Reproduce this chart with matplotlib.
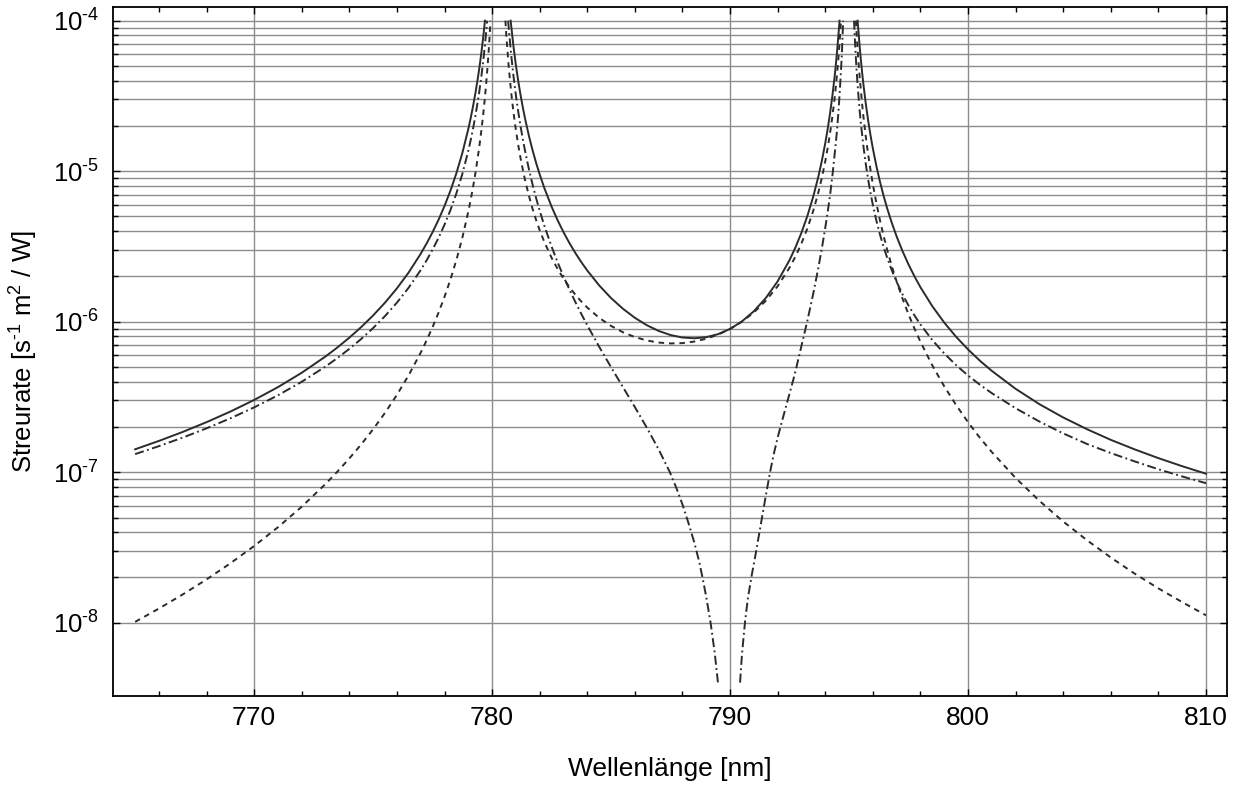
import numpy as np
import matplotlib
matplotlib.use("Agg")
import matplotlib.pyplot as plt
from matplotlib.ticker import FixedLocator, MultipleLocator, FuncFormatter, NullFormatter

nan = float("nan")

# Gesamte Streurate (durchgezogen)
total_wl = [765, 766, 767, 768, 769, 770, 771, 772, 773, 773.5, 774, 774.5, 775, 775.5, 776, 776.5,
            777, 777.25, 777.5, 777.75, 778, 778.25, 778.5, 778.75, 779, 779.1, 779.2, 779.3, 779.4,
            779.45, 779.5, 779.55, 779.6, 779.65, 779.7, nan,
            780.78, 780.8, 780.9, 781.0, 781.1, 781.2, 781.3, 781.4, 781.55, 781.7, 781.85, 782, 782.2,
            782.5, 782.75, 783, 783.25, 783.5, 783.75, 784, 784.5, 785, 785.5, 786, 786.5, 787, 787.5,
            788, 788.5, 789, 789.5, 790, 790.5, 791, 791.5, 792, 792.5, 792.75, 793, 793.25, 793.5,
            793.7, 793.85, 794, 794.1, 794.2, 794.3, 794.4, 794.45, 794.5, 794.55, 794.6, nan,
            795.36, 795.4, 795.45, 795.5, 795.55, 795.6, 795.7, 795.8, 795.9, 796, 796.15, 796.3, 796.45,
            796.6, 796.8, 797, 797.25, 797.5, 797.75, 798, 798.5, 799, 799.5, 800, 800.5, 801, 802, 803,
            804, 805, 806, 807, 808, 809, 810]
total_rate = [1.420e-7, 1.614e-7, 1.852e-7, 2.150e-7, 2.528e-7, 3.019e-7, 3.674e-7, 4.577e-7, 5.873e-7,
              6.744e-7, 7.831e-7, 9.211e-7, 1.100e-6, 1.338e-6, 1.665e-6, 2.130e-6, 2.827e-6, 3.313e-6,
              3.937e-6, 4.759e-6, 5.870e-6, 7.426e-6, 9.698e-6, 1.321e-5, 1.905e-5, 2.253e-5, 2.706e-5,
              3.311e-5, 4.144e-5, 4.685e-5, 5.339e-5, 6.139e-5, 7.135e-5, 8.395e-5, 1.0e-4, nan,
              1.0e-4, 9.32e-5, 6.71e-5, 5.06e-5, 3.956e-5, 3.18e-5, 2.607e-5, 2.18e-5, 1.710e-5,
              1.378e-5, 1.135e-5, 9.51e-6, 7.690e-6, 5.81e-6, 4.733e-6, 3.935e-6, 3.329e-6, 2.858e-6,
              2.486e-6, 2.187e-6, 1.742e-6, 1.435e-6, 1.218e-6, 1.061e-6, 9.48e-7, 8.68e-7, 8.15e-7,
              7.85e-7, 7.76e-7, 7.89e-7, 8.27e-7, 8.95e-7, 1.005e-6, 1.174e-6, 1.436e-6, 1.855e-6,
              2.568e-6, 3.123e-6, 3.904e-6, 5.051e-6, 6.83e-6, 9.072e-6, 1.159e-5, 1.536e-5, 1.901e-5,
              2.415e-5, 3.172e-5, 4.355e-5, 5.212e-5, 6.35e-5, 7.910e-5, 1.0e-4, nan,
              1.0e-4, 8.29e-5, 6.622e-5, 5.41e-5, 4.506e-5, 3.81e-5, 2.829e-5, 2.183e-5, 1.737e-5,
              1.415e-5, 1.078e-5, 8.49e-6, 6.868e-6, 5.67e-6, 4.514e-6, 3.68e-6, 2.934e-6, 2.397e-6,
              1.998e-6, 1.693e-6, 1.266e-6, 9.86e-7, 7.93e-7, 6.54e-7, 5.50e-7, 4.71e-7, 3.58e-7,
              2.83e-7, 2.31e-7, 1.93e-7, 1.64e-7, 1.418e-7, 1.240e-7, 1.096e-7, 9.77e-8]

# Rayleigh-Anteil (strichpunktiert)
rayleigh_wl = [765, 766, 767, 768, 769, 770, 771, 772, 773, 773.5, 774, 774.5, 775, 775.5, 776, 776.5,
               777, 777.25, 777.5, 777.75, 778, 778.25, 778.5, 778.75, 779, 779.1, 779.2, 779.3, 779.4,
               779.45, 779.5, 779.55, 779.6, 779.65, 779.7, 779.75, 779.79, nan,
               780.675, 780.7, 780.8, 780.9, 781.0, 781.1, 781.2, 781.3, 781.4, 781.55, 781.7, 781.85,
               782, 782.2, 782.5, 782.75, 783, 783.25, 783.5, 783.75, 784, 784.5, 785, 785.5, 786, 786.5,
               787, 787.47, 787.75, 788, 788.25, 788.5, 788.7, 788.84, 789.0, 789.18, 789.35, 789.49, nan,
               790.42, 790.5, 790.63, 790.75, 790.92, 791.05, 791.2, 791.35, 791.5, 791.68, 791.85, 792.0,
               792.15, 792.3, 792.5, 792.67, 792.75, 793.0, 793.25, 793.5, 793.7, 793.85, 794.0, 794.1,
               794.2, 794.3, 794.4, 794.45, 794.5, 794.55, 794.6, 794.65, 794.7, 794.75, nan,
               795.21, 795.25, 795.3, 795.35, 795.4, 795.45, 795.5, 795.55, 795.6, 795.7, 795.8, 795.9,
               796, 796.15, 796.3, 796.45, 796.6, 796.8, 797, 797.25, 797.5, 797.75, 798, 798.5, 799,
               799.5, 800, 800.5, 801, 802, 803, 804, 805, 806, 807, 808, 809, 810]
rayleigh_rate = [1.319e-7, 1.490e-7, 1.698e-7, 1.956e-7, 2.280e-7, 2.696e-7, 3.243e-7, 3.988e-7,
                 5.038e-7, 5.735e-7, 6.597e-7, 7.680e-7, 9.072e-7, 1.090e-6, 1.338e-6, 1.688e-6,
                 2.204e-6, 2.560e-6, 3.016e-6, 3.610e-6, 4.409e-6, 5.518e-6, 7.127e-6, 9.592e-6,
                 1.366e-5, 1.607e-5, 1.921e-5, 2.337e-5, 2.910e-5, 3.280e-5, 3.727e-5, 4.274e-5,
                 4.953e-5, 5.810e-5, 6.914e-5, 8.371e-5, 1.0e-4, nan,
                 1.0e-4, 8.906e-5, 5.965e-5, 4.262e-5, 3.190e-5, 2.472e-5, 1.968e-5, 1.601e-5, 1.326e-5,
                 1.026e-5, 8.157e-6, 6.617e-6, 5.462e-6, 4.320e-6, 3.153e-6, 2.488e-6, 2.001e-6,
                 1.633e-6, 1.349e-6, 1.125e-6, 9.459e-7, 6.810e-7, 4.983e-7, 3.674e-7, 2.708e-7,
                 1.977e-7, 1.416e-7, 1.0e-7, 7.8e-8, 6.1e-8, 4.6e-8, 3.4e-8, 2.55e-8, 2.0e-8, 1.48e-8,
                 1.0e-8, 6.4e-9, 4.0e-9, nan,
                 4.0e-9, 6.17e-9, 1.02e-8, 1.46e-8, 2.11e-8, 2.72e-8, 3.72e-8, 5.07e-8, 6.95e-8, 1.0e-7,
                 1.35e-7, 1.70e-7, 2.09e-7, 2.55e-7, 3.33e-7, 4.19e-7, 4.70e-7, 6.90e-7, 1.017e-6,
                 1.55e-6, 2.241e-6, 3.024e-6, 4.21e-6, 5.331e-6, 6.9e-6, 9.329e-6, 1.317e-5, 1.579e-5,
                 1.92e-5, 2.445e-5, 3.2e-5, 4.35e-5, 6.1e-5, 1.0e-4, nan,
                 1.0e-4, 7.165e-5, 5.166e-5, 3.912e-5, 3.073e-5, 2.484e-5, 2.054e-5, 1.729e-5, 1.479e-5,
                 1.122e-5, 8.845e-6, 7.180e-6, 5.968e-6, 4.678e-6, 3.787e-6, 3.143e-6, 2.662e-6,
                 2.186e-6, 1.837e-6, 1.516e-6, 1.279e-6, 1.099e-6, 9.58e-7, 7.54e-7, 6.15e-7, 5.14e-7,
                 4.39e-7, 3.81e-7, 3.35e-7, 2.66e-7, 2.17e-7, 1.81e-7, 1.54e-7, 1.34e-7, 1.18e-7,
                 1.046e-7, 9.37e-8, 8.45e-8]

# Raman-Anteil (gestrichelt)
raman_wl = [765, 766, 767, 768, 769, 770, 771, 772, 773, 773.5, 774, 774.5, 775, 775.5, 776, 776.5,
            777, 777.25, 777.5, 777.75, 778, 778.25, 778.5, 778.75, 779, 779.1, 779.2, 779.3, 779.4,
            779.45, 779.5, 779.55, 779.6, 779.65, 779.7, 779.75, 779.8, 779.85, 779.9, 779.93, nan,
            780.56, 780.6, 780.7, 780.8, 780.9, 781.0, 781.1, 781.2, 781.3, 781.4, 781.55, 781.7, 781.85,
            782, 782.2, 782.5, 782.75, 783, 783.25, 783.5, 783.75, 784, 784.5, 785, 785.5, 786, 786.5,
            787, 787.5, 788, 788.5, 789, 789.5, 790, 790.5, 791, 791.5, 792, 792.5, 792.75, 793, 793.25,
            793.5, 793.7, 793.85, 794, 794.1, 794.2, 794.3, 794.4, 794.45, 794.5, 794.55, 794.6, 794.66, nan,
            795.29, 795.3, 795.35, 795.4, 795.45, 795.5, 795.55, 795.6, 795.7, 795.8, 795.9, 796, 796.15,
            796.3, 796.45, 796.6, 796.8, 797, 797.25, 797.5, 797.75, 798, 798.5, 799, 799.5, 800, 800.5,
            801, 802, 803, 804, 805, 806, 807, 808, 809, 810]
raman_rate = [1.013e-8, 1.242e-8, 1.541e-8, 1.939e-8, 2.480e-8, 3.232e-8, 4.307e-8, 5.898e-8,
              8.351e-8, 1.009e-7, 1.234e-7, 1.530e-7, 1.929e-7, 2.480e-7, 3.265e-7, 4.427e-7,
              6.231e-7, 7.525e-7, 9.219e-7, 1.149e-6, 1.462e-6, 1.908e-6, 2.572e-6, 3.616e-6,
              5.386e-6, 6.453e-6, 7.852e-6, 9.734e-6, 1.235e-5, 1.405e-5, 1.612e-5, 1.866e-5,
              2.183e-5, 2.585e-5, 3.106e-5, 3.797e-5, 4.740e-5, 6.074e-5, 8.044e-5, 1.0e-4, nan,
              1.0e-4, 7.891e-5, 4.901e-5, 3.354e-5, 2.449e-5, 1.873e-5, 1.484e-5, 1.208e-5, 1.006e-5,
              8.522e-6, 6.832e-6, 5.625e-6, 4.732e-6, 4.052e-6, 3.370e-6, 2.658e-6, 2.244e-6,
              1.934e-6, 1.696e-6, 1.510e-6, 1.361e-6, 1.241e-6, 1.061e-6, 9.371e-7, 8.505e-7,
              7.904e-7, 7.504e-7, 7.267e-7, 7.171e-7, 7.208e-7, 7.381e-7, 7.706e-7, 8.212e-7,
              8.951e-7, 1.001e-6, 1.153e-6, 1.377e-6, 1.722e-6, 2.288e-6, 2.717e-6, 3.313e-6,
              4.175e-6, 5.491e-6, 7.124e-6, 8.941e-6, 1.163e-5, 1.422e-5, 1.784e-5, 2.314e-5,
              3.135e-5, 3.728e-5, 4.514e-5, 5.585e-5, 7.102e-5, 1.0e-4, nan,
              1.0e-4, 9.105e-5, 6.766e-5, 5.216e-5, 4.138e-5, 3.358e-5, 2.777e-5, 2.332e-5, 1.707e-5,
              1.299e-5, 1.019e-5, 8.183e-6, 6.103e-6, 4.706e-6, 3.724e-6, 3.011e-6, 2.328e-6,
              1.845e-6, 1.418e-6, 1.118e-6, 8.989e-7, 7.351e-7, 5.119e-7, 3.718e-7, 2.790e-7,
              2.149e-7, 1.691e-7, 1.360e-7, 9.15e-8, 6.45e-8, 4.70e-8, 3.53e-8, 2.71e-8, 2.12e-8,
              1.69e-8, 1.37e-8, 1.12e-8]

y_major = [1e-8, 1e-7, 1e-6, 1e-5, 1e-4]


def main():
    plt.rcParams["font.family"] = ["Liberation Sans", "DejaVu Sans"]
    plt.rcParams["mathtext.fontset"] = "custom"
    plt.rcParams["mathtext.rm"] = "Liberation Sans"
    plt.rcParams["mathtext.it"] = "Liberation Sans:italic"
    plt.rcParams["mathtext.default"] = "regular"
    plt.rcParams["lines.scale_dashes"] = False

    fig = plt.figure(figsize=(12.35, 7.85), dpi=100)
    ax = fig.add_axes([0.0915, 0.1134, 0.902, 0.8777])

    col = "#2b2b2b"
    ax.plot(total_wl, total_rate, color=col, lw=1.4)
    ax.plot(rayleigh_wl, rayleigh_rate, color=col, lw=1.4, dashes=(6.5, 2.5, 1.3, 2.5))
    ax.plot(raman_wl, raman_rate, color=col, lw=1.4, dashes=(4.0, 3.5))

    ax.set_yscale("log")
    ax.set_xlim(764.07, 810.88)
    ax.set_ylim(3.26e-9, 1.233e-4)

    y_minor = [k * m for m in y_major[:-1] for k in range(2, 10)]
    ax.xaxis.set_major_locator(MultipleLocator(10))
    ax.xaxis.set_minor_locator(MultipleLocator(2))
    ax.yaxis.set_major_locator(FixedLocator(y_major))
    ax.yaxis.set_minor_locator(FixedLocator(y_minor))
    ax.yaxis.set_minor_formatter(NullFormatter())
    ax.yaxis.set_major_formatter(
        FuncFormatter(lambda v, p: r"10$^{\text{-}%d}$" % int(round(-np.log10(v)))))

    ax.set_axisbelow(True)
    ax.grid(True, which="major", axis="x", color="#8c8c8c", lw=1.0)
    ax.grid(True, which="both", axis="y", color="#8c8c8c", lw=1.0)

    ax.tick_params(which="both", direction="in", top=True, right=True, width=1.0, color="black")
    ax.tick_params(which="major", length=5)
    ax.tick_params(which="minor", length=3.5)
    ax.tick_params(axis="x", labelsize=19, pad=7)
    ax.tick_params(axis="y", labelsize=18.5, pad=10)
    for s in ax.spines.values():
        s.set_linewidth(1.3)
        s.set_color("black")

    ax.set_xlabel("Wellenlänge [nm]", fontsize=19)
    ax.xaxis.set_label_coords(0.5, -0.0885)
    ax.set_ylabel(r"Streurate [s$^{\text{-}1}$ m$^{2}$ / W]", fontsize=18.5)
    ax.yaxis.set_label_coords(-0.0655, 0.5)

    fig.savefig("out.png", dpi=100)
    plt.close(fig)


if __name__ == "__main__":
    main()
